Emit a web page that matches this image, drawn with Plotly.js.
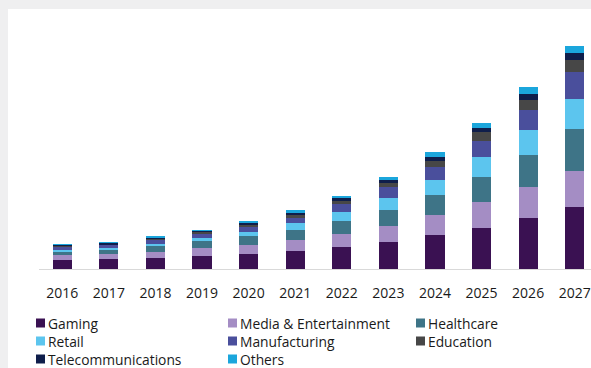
<!DOCTYPE html>
<html>
<head>
<meta charset="utf-8">
<script src="https://cdn.plot.ly/plotly-3.0.1.min.js"></script>
<style>
html,body{margin:0;padding:0;background:#efeff0;overflow:hidden;width:591px;height:368px;}
#chart{position:absolute;left:8px;top:9px;width:590px;height:359px;background:#fff;}
</style>
</head>
<body>
<div id="chart"></div>
<script>
// Market size by application (arbitrary units)
const years = ["2016","2017","2018","2019","2020","2021","2022","2023","2024","2025","2026","2027"];
const gaming        = [0.87,0.97,1.10,1.34,1.47,1.77,2.16,2.66,3.36,4.10,5.06,6.16];
const media         = [0.50,0.50,0.60,0.76,0.97,1.17,1.34,1.67,2.07,2.56,3.10,3.67];
const healthcare    = [0.33,0.40,0.57,0.67,0.83,0.93,1.26,1.60,1.97,2.57,3.24,4.17];
const retail        = [0.24,0.27,0.27,0.37,0.43,0.73,0.90,1.15,1.50,2.00,2.53,3.00];
const manufacturing = [0.26,0.23,0.33,0.40,0.50,0.54,0.84,1.10,1.33,1.60,1.97,2.66];
const education     = [0.08,0.08,0.10,0.12,0.17,0.30,0.33,0.40,0.60,0.83,1.03,1.24];
const telecom       = [0.13,0.15,0.16,0.15,0.23,0.17,0.23,0.30,0.40,0.46,0.62,0.66];
const others        = [0.12,0.10,0.16,0.13,0.20,0.27,0.20,0.28,0.43,0.48,0.62,0.70];

const seriesNames = ["Gaming","Media & Entertainment","Healthcare","Retail","Manufacturing","Education","Telecommunications","Others"];
const seriesData  = [gaming,media,healthcare,retail,manufacturing,education,telecom,others];
const seriesColors = ["#3a1152","#a48dc4","#3e7487","#5cc5ee","#4a4f9c","#474747","#0f1e4b","#1ba6dc"];

const traces = seriesNames.map((n,i)=>({
  type:"bar", name:n, x:years, y:seriesData[i],
  marker:{color:seriesColors[i], line:{width:0}},
  hoverinfo:"x+y+name", showlegend:false
}));

// Legend laid out as a 3-column grid below the axis (pixel offsets from plot's bottom-left corner)
const colX = [-3, 189, 377];
const rowY = [-54, -72, -90];
const shapes = [], annotations = [];
seriesNames.forEach((n,i)=>{
  const c = i % 3, r = Math.floor(i / 3);
  shapes.push({
    type:"rect", xref:"paper", yref:"paper",
    xsizemode:"pixel", ysizemode:"pixel", xanchor:0, yanchor:0,
    x0:colX[c], x1:colX[c]+9, y0:rowY[r]-4.5, y1:rowY[r]+4.5,
    fillcolor:seriesColors[i], line:{width:0}
  });
  annotations.push({
    text:n, xref:"paper", yref:"paper", x:0, y:0,
    xanchor:"left", yanchor:"middle", showarrow:false,
    xshift:colX[c]+11, yshift:rowY[r], borderpad:0,
    font:{size:13.8, color:"#1a1a1a"}
  });
});

const layout = {
  barmode:"stack",
  bargap:0.59,
  width:590, height:359,
  margin:{l:31,r:0,t:30,b:99},
  paper_bgcolor:"#ffffff",
  plot_bgcolor:"#ffffff",
  font:{family:"Open Sans, sans-serif", size:14, color:"#1a1a1a"},
  xaxis:{
    type:"category",
    showline:true, linecolor:"#d9d9d9", linewidth:1,
    ticks:"outside", ticklen:11, tickcolor:"rgba(0,0,0,0)",
    showgrid:false, zeroline:false,
    tickfont:{size:14, color:"#1a1a1a"}
  },
  yaxis:{ range:[0,23], visible:false, showgrid:false, zeroline:false },
  showlegend:false,
  shapes:shapes,
  annotations:annotations
};

Plotly.newPlot("chart", traces, layout, {displayModeBar:false, staticPlot:true});
</script>
</body>
</html>
